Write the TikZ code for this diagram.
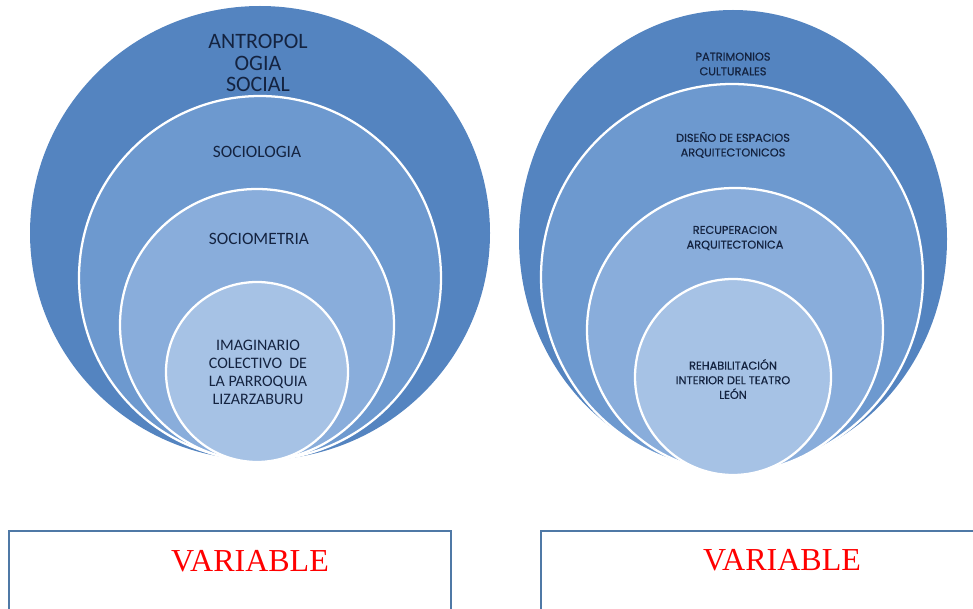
\documentclass[tikz,border=0pt]{standalone}
\usepackage{fontspec}
\setmainfont{Liberation Serif}
\newfontfamily\ringfont{Carlito}
\newfontfamily\gothfont[FakeBold=0.6]{Poppins}
\usetikzlibrary{positioning}

\definecolor{ringA}{RGB}{84,132,192}
\definecolor{ringB}{RGB}{109,153,207}
\definecolor{ringC}{RGB}{137,173,219}
\definecolor{ringD}{RGB}{166,194,229}
\definecolor{ringink}{RGB}{20,35,64}
\definecolor{boxblue}{RGB}{79,121,166}

\tikzset{
  ring/.style={draw=white, line width=1.7pt},
  lefttext/.style={text=ringink, align=center, inner sep=0pt, font=\ringfont},
  righttext/.style={text=ringink, align=center, inner sep=0pt,
    font=\gothfont\fontsize{8.5}{11}\selectfont},
  varbox/.style={draw=boxblue, line width=2.2pt},
  vartext/.style={text=red, inner sep=0pt, font=\fontsize{24}{28}\selectfont}
}

\begin{document}
\begin{tikzpicture}[x=0.75pt, y=-0.75pt]
    \useasboundingbox (0,0) rectangle (973,609);
    \clip (0,0) rectangle (973,609);

    % Left rings
    \fill[ringA] (260,233) ellipse [x radius=230, y radius=227];
    \filldraw[ring, fill=ringB] (260,278) ellipse [x radius=181, y radius=182];
    \filldraw[ring, fill=ringC] (257,325) ellipse [x radius=137, y radius=136];
    \filldraw[ring, fill=ringD] (257,372) ellipse [x radius=91, y radius=90];

    \node[lefttext, font=\ringfont\fontsize{16.5}{16}\selectfont] (antro) at (258,63) {ANTROPOL\\OGIA\\SOCIAL};
    \node[lefttext, font=\ringfont\fontsize{13}{14}\selectfont] (socio) at (257,152) {SOCIOLOGIA};
    \node[lefttext, font=\ringfont\fontsize{13}{14}\selectfont] (sociom) at (259,239) {SOCIOMETRIA};
    \node[lefttext, font=\ringfont\fontsize{12}{13.5}\selectfont] (imag) at (258,372) {IMAGINARIO\\COLECTIVO\ \ DE\\LA PARROQUIA\\LIZARZABURU};

    % Right rings
    \fill[ringA] (733,239) ellipse [x radius=214, y radius=229];
    \filldraw[ring, fill=ringB] (732,277) ellipse [x radius=191, y radius=193];
    \filldraw[ring, fill=ringC] (735,330) ellipse [x radius=148, y radius=142];
    \filldraw[ring, fill=ringD] (733,377) ellipse [x radius=98, y radius=98];

    \node[righttext] (patri) at (733,64) {PATRIMONIOS\\CULTURALES};
    \node[righttext] (diseno) at (733,145) {DISEÑO DE ESPACIOS\\ARQUITECTONICOS};
    \node[righttext] (recup) at (735,238) {RECUPERACION\\ARQUITECTONICA};
    \node[righttext] (rehab) at (733,379) {REHABILITACIÓN\\INTERIOR DEL TEATRO\\LEÓN};

    % Variable boxes
    \draw[varbox] (9,531) rectangle (451,640);
    \draw[varbox] (541,531) rectangle (990,640);
    \node[vartext] (leftvar) at (250,561) {VARIABLE};
    \node[vartext] (rightvar) at (782,560) {VARIABLE};
\end{tikzpicture}
\end{document}
